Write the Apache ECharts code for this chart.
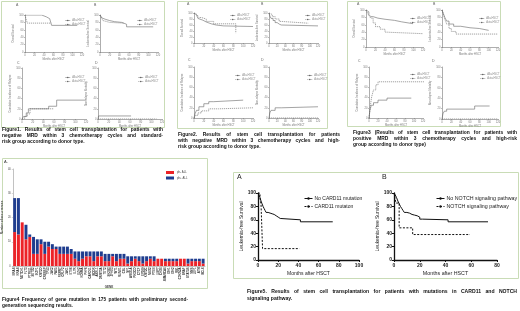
<!DOCTYPE html>
<html>
<head>
<meta charset="utf-8">
<script src="https://cdn.jsdelivr.net/npm/echarts@6/dist/echarts.min.js"></script>
<style>
  html, body { margin: 0; padding: 0; background: #fff; }
  #chart { width: 520px; height: 311px; }
</style>
</head>
<body>
<div id="chart"></div>
<script>
// ---- Figure 1 curves (months, percent) ----
var f1A_alloT = [0, 35, 45, 52, 56, 110];
var f1A_alloS = [100, 95, 90, 85, 72, 72];
var f1A_autoT = [0, 2, 5, 55];
var f1A_autoS = [100, 90, 78, 78];
var f1B_alloT = [0, 2, 4, 8, 12, 20, 30, 45, 55, 110];
var f1B_alloS = [100, 95, 92, 88, 85, 82, 80, 75, 68, 68];
var f1B_autoT = [0, 3, 6, 10, 20, 50];
var f1B_autoS = [100, 92, 85, 80, 78, 78];
var f1C_alloT = [0, 3, 8, 12, 50, 65, 120];
var f1C_alloS = [0, 5, 12, 20, 25, 37, 37];
var f1C_autoT = [0, 5, 10, 15, 60];
var f1C_autoS = [0, 5, 10, 20, 20];
var f1D_alloT = [0, 1, 62];
var f1D_alloS = [0, 6, 6];
var f1D_autoT = [0, 110];
var f1D_autoS = [0, 0];

// ---- Figure 2 curves ----
var f2A_alloT = [0, 2, 5, 8, 12, 18, 25, 35, 45, 60, 120];
var f2A_alloS = [100, 94, 88, 82, 76, 70, 64, 60, 57, 55, 55];
var f2A_autoT = [0, 3, 6, 10, 15, 25, 40, 85];
var f2A_autoS = [100, 95, 90, 85, 80, 72, 64, 33];
var f2B_alloT = [0, 2, 5, 10, 15, 20, 25, 30, 120];
var f2B_alloS = [100, 90, 82, 75, 68, 63, 60, 57, 57];
var f2B_autoT = [0, 3, 8, 15, 25, 30, 96];
var f2B_autoS = [100, 95, 88, 80, 72, 66, 66];
var f2C_alloT = [0, 2, 5, 10, 20, 30, 40, 100];
var f2C_alloS = [0, 8, 15, 22, 28, 32, 35, 35];
var f2C_autoT = [0, 3, 8, 15, 30, 50, 120];
var f2C_autoS = [0, 5, 10, 14, 18, 20, 20];
var f2D_alloT = [0, 2, 5, 15, 30, 120];
var f2D_alloS = [0, 10, 15, 20, 22, 22];
var f2D_autoT = [0, 120];
var f2D_autoS = [0, 0];

// ---- Figure 3 curves ----
var f3A_alloT = [0, 3, 6, 10, 15, 25, 40, 60, 75, 99];
var f3A_alloS = [100, 95, 88, 82, 78, 75, 72, 68, 63, 63];
var f3A_autoT = [0, 3, 6, 10, 15, 20, 30, 40, 45, 120];
var f3A_autoS = [100, 92, 85, 78, 65, 55, 48, 40, 36, 36];
var f3B_alloT = [0, 3, 6, 10, 15, 25, 40, 60, 80, 100];
var f3B_alloS = [100, 90, 80, 70, 62, 56, 52, 50, 45, 45];
var f3B_autoT = [0, 3, 6, 10, 15, 20, 30, 120];
var f3B_autoS = [100, 88, 75, 62, 50, 42, 35, 35];
var f3C_alloT = [0, 2, 5, 10, 20, 40, 94];
var f3C_alloS = [0, 15, 25, 30, 35, 39, 39];
var f3C_autoT = [0, 2, 4, 6, 10, 15, 20, 280];
var f3C_autoS = [0, 15, 30, 42, 55, 65, 71, 71];
var f3D_alloT = [0, 2, 5, 10, 70, 102];
var f3D_alloS = [0, 10, 15, 19, 25, 25];
var f3D_autoT = [0, 120];
var f3D_autoS = [0, 0];

// ---- Figure 4: gene mutation counts ----
var genes = ['NRAS','KRAS','NOTCH1','FLT3','PTPN11','SETD2','IKZF1','KMT2D','CREBBP','TP53',
  'JAK2','PAX5','FBXW7','CRLF2','JAK1','ETV6','IL7R','EZH2','KDM6A','PHF6',
  'CARD11','BCOR','ASXL1','DNMT3A','TET2','SH2B3','ZFHX3','WT1','RUNX1','CBL',
  'NF1','ARID1A','PIK3CD','CTCF','EP300','KMT2C','NSD2','PTEN','USP7','CHD4',
  'SMARCA4','IDH1','IDH2','RB1','CDKN2A','BRAF','STAT5B','MYB','LEF1','ATM','BCL6'];
var phNeg = [14,13,18,11,12,5,5,9,5,8,7,7,5,5,5,5,3,2,3,4,4,2,4,4,2,2,4,2,3,3,1,2,3,2,1,2,3,2,3,3,2,2,2,2,3,3,1,2,2,2,1];
var phPos = [14,15,0,6,1,7,6,2,5,2,2,1,3,3,3,2,3,4,3,2,2,4,2,2,3,3,1,3,2,2,3,2,1,2,3,2,1,2,0,0,1,1,1,1,0,0,2,1,1,1,2];
var f4Ticks = [0, 10, 20, 30, 40];

// ---- Figure 5 curves ----
var noCardT = [0, 1, 2, 3, 4, 5, 6, 7, 8, 10, 12, 14, 16, 18, 20, 22, 42, 74];
var noCardS = [100, 97, 93, 88, 84, 80, 77, 74, 71, 70, 69, 68, 66, 64, 62, 60, 57, 57];
var cardT = [0, 2, 3, 4.5, 41];
var cardS = [100, 92, 83, 17, 17];
var noNotchT = [0, 1, 2, 3, 4, 5, 6, 7, 8, 10, 12, 14, 16, 18, 20, 22, 42, 73];
var noNotchS = [100, 97, 93, 88, 84, 80, 77, 74, 71, 70, 68, 67, 66, 64, 61, 60, 57, 57];
var notchT = [0, 1.5, 4, 14.5, 59];
var notchS = [100, 85, 48, 38, 38];

function km(t, s) {
  return t.map(function (v, i) { return [v, s[i]]; });
}

var FONT = 'Liberation Sans, Arial, sans-serif';
var kmNames = ['Allo-HSCT', 'Auto-HSCT'];
var yNames = ['Overall Survival', 'Leukemia-free Survival', 'Cumulative Incidence of Relapse', 'Non-relapse Mortality'];

var kmPanels = [
  { l: 25, t: 15, w: 57, h: 37, c: [[f1A_alloT, f1A_alloS], [f1A_autoT, f1A_autoS]], lg: [60, 14], tag: 'A', tp: [16, 3] },
  { l: 100, t: 15, w: 58, h: 37, c: [[f1B_alloT, f1B_alloS], [f1B_autoT, f1B_autoS]], lg: [132, 14], tag: 'B', tp: [94, 3] },
  { l: 22, t: 68, w: 64, h: 51, c: [[f1C_alloT, f1C_alloS], [f1C_autoT, f1C_autoS]], lg: [60, 71], tag: 'C', tp: [17, 61] },
  { l: 98, t: 68, w: 64, h: 51, c: [[f1D_alloT, f1D_alloS], [f1D_autoT, f1D_autoS]], lg: [133, 71], tag: 'D', tp: [95, 61] },
  { l: 194, t: 13, w: 59, h: 30, c: [[f2A_alloT, f2A_alloS], [f2A_autoT, f2A_autoS]], lg: [225, 9], tag: 'A', tp: [187, 2] },
  { l: 269, t: 13, w: 49, h: 30, c: [[f2B_alloT, f2B_alloS], [f2B_autoT, f2B_autoS]], lg: [300, 9], tag: 'B', tp: [261, 2] },
  { l: 194, t: 67, w: 59, h: 51, c: [[f2C_alloT, f2C_alloS], [f2C_autoT, f2C_autoS]], lg: [230, 69], tag: 'C', tp: [188, 58] },
  { l: 269, t: 67, w: 49, h: 51, c: [[f2D_alloT, f2D_alloS], [f2D_autoT, f2D_autoS]], lg: [302, 69], tag: 'D', tp: [261, 58] },
  { l: 366, t: 10, w: 57, h: 37, c: [[f3A_alloT, f3A_alloS], [f3A_autoT, f3A_autoS]], lg: [405, 12], tag: 'A', tp: [357, 2] },
  { l: 442, t: 10, w: 56, h: 37, c: [[f3B_alloT, f3B_alloS], [f3B_autoT, f3B_autoS]], lg: [474, 12], tag: 'B', tp: [433, 2] },
  { l: 369, t: 67, w: 54, h: 51, c: [[f3C_alloT, f3C_alloS], [f3C_autoT, f3C_autoS]], lg: [405, 68], tag: 'C', tp: [358, 59] },
  { l: 442, t: 67, w: 56, h: 52, c: [[f3D_alloT, f3D_alloS], [f3D_autoT, f3D_autoS]], lg: [475, 68], tag: 'D', tp: [432, 59] }
];

var grid = [], xAxis = [], yAxis = [], series = [], legend = [], graphic = [];
var kmAxisLine = { lineStyle: { color: '#777', width: 0.6 } };
var kmLabel = { fontSize: 2.6, color: '#777', margin: 1.5, fontFamily: FONT };

kmPanels.forEach(function (p, i) {
  grid.push({ left: p.l, top: p.t, width: p.w, height: p.h });
  xAxis.push({
    type: 'value', gridIndex: i, min: 0, max: 120, interval: 20,
    name: 'Months after HSCT', nameLocation: 'middle', nameGap: 5,
    nameTextStyle: { fontSize: 2.6, color: '#777', fontFamily: FONT },
    axisLine: kmAxisLine, axisTick: { length: 1, lineStyle: { color: '#777', width: 0.5 } },
    axisLabel: kmLabel, splitLine: { show: false }
  });
  yAxis.push({
    type: 'value', gridIndex: i, min: 0, max: 100, interval: 20,
    name: yNames[i % 4], nameLocation: 'middle', nameGap: 7,
    nameTextStyle: { fontSize: 2.6, color: '#777', fontFamily: FONT },
    axisLine: { show: true, lineStyle: { color: '#777', width: 0.6 } },
    axisTick: { show: true, length: 1, lineStyle: { color: '#777', width: 0.5 } },
    axisLabel: kmLabel, splitLine: { show: false }
  });
  p.c.forEach(function (c, k) {
    series.push({
      type: 'line', name: kmNames[k], xAxisIndex: i, yAxisIndex: i,
      step: 'end', symbol: 'none', clip: i !== 10,
      data: km(c[0], c[1]),
      lineStyle: { color: '#666', width: 0.6, type: k === 0 ? 'solid' : [1.2, 0.8] },
      itemStyle: { color: '#666' }
    });
  });
  legend.push({
    left: p.lg[0], top: p.lg[1], orient: 'vertical', itemWidth: 5, itemHeight: 2, itemGap: 1,
    data: kmNames, selectedMode: false,
    lineStyle: { width: 0.5 },
    textStyle: { fontSize: 2.6, color: '#888', fontFamily: FONT, padding: [0, 0, 0, -3] }
  });
  graphic.push({ type: 'text', left: p.tp[0], top: p.tp[1], style: { text: p.tag, fontSize: 3.5, fill: '#666', fontFamily: FONT } });
});

// ---- Figure 4 grid ----
var g4 = grid.length;
grid.push({ left: 12, top: 169, width: 193, height: 97 });
xAxis.push({
  type: 'category', gridIndex: g4, data: genes,
  name: 'GENE', nameLocation: 'middle', nameGap: 18,
  nameTextStyle: { fontSize: 3, color: '#444', fontWeight: 'bold', fontFamily: FONT },
  axisLine: { lineStyle: { color: '#999', width: 0.6 } },
  axisTick: { show: false },
  axisLabel: { interval: 0, rotate: 90, fontSize: 2.8, color: '#333', margin: 1.5, fontFamily: FONT, fontWeight: 'bold' }
});
yAxis.push({
  type: 'value', gridIndex: g4, min: f4Ticks[0], max: f4Ticks[f4Ticks.length - 1], interval: 10,
  name: 'Number of occurrences', nameLocation: 'middle', nameGap: 7,
  nameTextStyle: { fontSize: 3, color: '#444', fontWeight: 'bold', fontFamily: FONT },
  axisLine: { show: true, lineStyle: { color: '#999', width: 0.6 } },
  axisTick: { show: true, length: 1, lineStyle: { color: '#999', width: 0.5 } },
  axisLabel: { fontSize: 2.6, color: '#444', margin: 2, fontFamily: FONT },
  splitLine: { show: false }
});
series.push({
  type: 'bar', name: 'ph- ALL', xAxisIndex: g4, yAxisIndex: g4, stack: 'g', data: phNeg,
  barWidth: '78%', itemStyle: { color: '#ec2227' }
});
series.push({
  type: 'bar', name: 'ph+ ALL', xAxisIndex: g4, yAxisIndex: g4, stack: 'g', data: phPos,
  barWidth: '78%', itemStyle: { color: '#1f3d8f' }
});
legend.push({
  left: 161, top: 166, orient: 'vertical', itemWidth: 8, itemHeight: 3, itemGap: 2.5,
  data: ['ph- ALL', 'ph+ ALL'], selectedMode: false, icon: 'rect',
  textStyle: { fontSize: 2.8, color: '#444', fontFamily: FONT, padding: [0, 0, 0, -2] }
});

// ---- Figure 5 grids ----
var f5 = [
  { l: 258, t: 193, w: 101, h: 67, max: 100, c: [[noCardT, noCardS], [cardT, cardS]], names: ['No CARD11 mutation', 'CARD11 mutaton'], lg: [299, 191], fs: 5 },
  { l: 394, t: 193, w: 103, h: 67, max: 80, c: [[noNotchT, noNotchS], [notchT, notchS]], names: ['No NOTCH signaling pathway', 'NOTCH signaling pathway'], lg: [431, 191], fs: 5.3 }
];
f5.forEach(function (p) {
  var gi = grid.length;
  grid.push({ left: p.l, top: p.t, width: p.w, height: p.h });
  xAxis.push({
    type: 'value', gridIndex: gi, min: 0, max: p.max, interval: 20,
    name: 'Months after HSCT', nameLocation: 'middle', nameGap: 11,
    nameTextStyle: { fontSize: p.fs, color: '#222', fontFamily: FONT },
    axisLine: { lineStyle: { color: '#111', width: 1.3 } },
    axisTick: { length: 2, lineStyle: { color: '#111', width: 1 } },
    axisLabel: { fontSize: 5, color: '#222', margin: 3, fontFamily: FONT, fontWeight: 'bold' },
    splitLine: { show: false }
  });
  yAxis.push({
    type: 'value', gridIndex: gi, min: 0, max: 100, interval: 20,
    name: 'Leukemia-free Survival', nameLocation: 'middle', nameGap: 14,
    nameTextStyle: { fontSize: 4.9, color: '#222', fontFamily: FONT },
    axisLine: { show: true, lineStyle: { color: '#111', width: 1.3 } },
    axisTick: { show: true, length: 2, lineStyle: { color: '#111', width: 1 } },
    axisLabel: { fontSize: 5, color: '#222', margin: 2, fontFamily: FONT, fontWeight: 'bold' },
    splitLine: { show: false }
  });
  p.c.forEach(function (c, k) {
    series.push({
      type: 'line', name: p.names[k], xAxisIndex: gi, yAxisIndex: gi,
      step: 'end', symbol: 'none', data: km(c[0], c[1]),
      lineStyle: { color: '#111', width: 1, type: k === 0 ? 'solid' : [2, 1.5] },
      itemStyle: { color: '#111' }
    });
  });
  legend.push({
    left: p.lg[0], top: p.lg[1], orient: 'vertical', itemWidth: 8, itemHeight: 3, itemGap: 3,
    data: p.names, selectedMode: false,
    lineStyle: { width: 1 },
    textStyle: { fontSize: p.fs, color: '#222', fontFamily: FONT, padding: [0, 0, 0, -3] }
  });
});

// ---- panel frames, labels and captions ----
var frame = { stroke: '#c9dcb6', lineWidth: 1, fill: 'none' };
[[1, 1, 163, 126], [177, 1, 150, 127], [347, 1, 153, 125], [2, 158, 205, 130], [233, 172, 285, 106]].forEach(function (r) {
  graphic.push({ type: 'rect', shape: { x: r[0] + 0.5, y: r[1] + 0.5, width: r[2], height: r[3] }, style: frame, z: -1 });
});

// justified caption: each line carries a flag saying whether it is stretched to full width
var measure = document.createElement('canvas').getContext('2d');
function capText(x, y, text, fs) {
  return {
    type: 'text', x: x, y: y,
    style: { text: text, fontSize: fs, fontWeight: 'bold', fontFamily: FONT, fill: '#111', verticalAlign: 'middle' }
  };
}
function caption(x, y, width, lines, fs, lh) {
  measure.font = 'bold ' + fs + 'px "Liberation Sans", Arial, sans-serif';
  lines.forEach(function (ln, li) {
    var yy = y + li * lh;
    var words = ln[0].split(' ');
    if (!ln[1] || words.length < 2) {
      graphic.push(capText(x, yy, ln[0], fs));
      return;
    }
    var widths = words.map(function (w) { return measure.measureText(w).width; });
    var total = widths.reduce(function (a, b) { return a + b; }, 0);
    var gap = Math.max((width - total) / (words.length - 1), 0.6);
    var cx = x;
    words.forEach(function (w, wi) {
      graphic.push(capText(cx, yy, w, fs));
      cx += widths[wi] + gap;
    });
  });
}
caption(2, 130, 161, [
  ['Figure1. Results of stem cell transplantation for patients with', true],
  ['negative MRD within 3 chemotherapy cycles and standard-', true],
  ['risk group according to donor type.', false]], 4.9, 5.6);
caption(178, 135, 162, [
  ['Figure2. Results of stem cell transplantation for patients', true],
  ['with negative MRD within 3 chemotherapy cycles and high-', true],
  ['risk group according to donor type.', false]], 4.9, 5.7);
caption(353, 133, 164, [
  ['Figure3 (Results of stem cell transplantation for patients with', true],
  ['positive MRD within 3 chemotherapy cycles and high-risk', true],
  ['group according to donor type)', false]], 4.9, 5.8);
caption(2, 300, 186, [
  ['Figure4 Frequency of gene mutation in 175 patients with preliminary second-', true],
  ['generation sequencing results.', false]], 4.8, 6);
caption(247, 292, 270, [
  ['Figure5. Results of stem cell transplantation for patients with mutations in CARD11 and NOTCH', true],
  ['signaling pathway.', false]], 5.1, 7);

graphic.push({ type: 'text', left: 4, top: 160, style: { text: 'A.', fontSize: 4, fill: '#333', fontFamily: FONT } });
graphic.push({ type: 'text', left: 237, top: 174, style: { text: 'A', fontSize: 7, fill: '#222', fontFamily: FONT } });
graphic.push({ type: 'text', left: 382, top: 174, style: { text: 'B', fontSize: 7, fill: '#222', fontFamily: FONT } });

var myChart = echarts.init(document.getElementById('chart'));
myChart.setOption({
  animation: false,
  backgroundColor: '#fff',
  grid: grid,
  xAxis: xAxis,
  yAxis: yAxis,
  legend: legend,
  series: series,
  graphic: graphic
});
window.addEventListener('resize', function () {
  myChart.resize();
});
</script>
</body>
</html>
